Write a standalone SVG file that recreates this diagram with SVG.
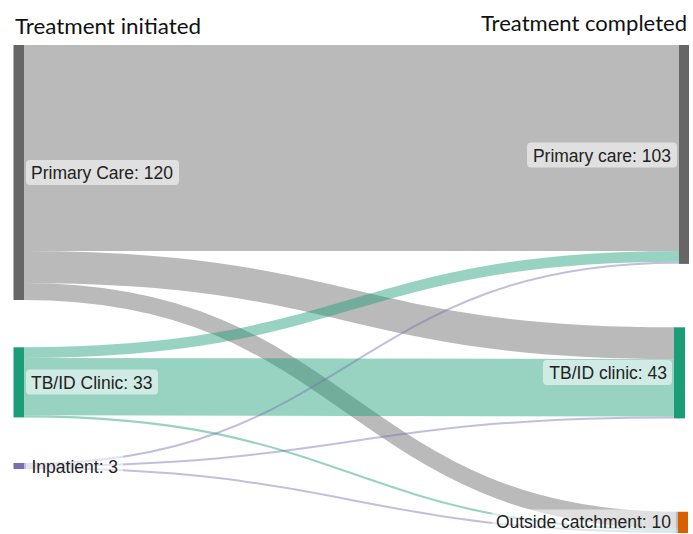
<svg xmlns="http://www.w3.org/2000/svg" width="693" height="534" viewBox="0 0 693 534">
  <style>
    .title { font-family: Lato, "Open Sans", sans-serif; font-size: 21.5px; fill: #111; }
    .lbl { font-family: "Liberation Sans", Arial, sans-serif; font-size: 17.5px; fill: #222; }
    .box { fill: #ffffff; fill-opacity: 0.55; }
    .link { fill: none; stroke-opacity: 0.45; }
    .grey { stroke: #666666; }
    .green { stroke: #1b9e77; }
    .purple { stroke: #7570b3; }
  </style>

  <!-- column titles -->
  <text class="title" x="15" y="34" textLength="186" lengthAdjust="spacingAndGlyphs">Treatment initiated</text>
  <text class="title" x="481" y="31" textLength="206" lengthAdjust="spacingAndGlyphs">Treatment completed</text>

  <!-- flows: cubic curves with control points at the horizontal midpoint -->
  <g id="links">
    <path class="link grey" stroke-width="206.1" d="M24,148.06 L679,148.06"/>
    <path class="link grey" stroke-width="31.9" d="M24,267.06 C349,267.06 349,343.2 674,343.2"/>
    <path class="link grey" stroke-width="17" d="M24,291.5 C351,291.5 351,520.25 678,520.25"/>
    <path class="link green" stroke-width="10.6" d="M24,352.6 C351.5,352.6 351.5,256.4 679,256.4"/>
    <path class="link green" stroke-width="57.4" d="M24,386.6 C349,386.6 349,387.9 674,387.9"/>
    <path class="link green" stroke-width="2.1" d="M24,416.4 C351,416.4 351,529.8 678,529.8"/>
    <path class="link purple" stroke-width="2" d="M24,464 C351.5,464 351.5,262.8 679,262.8"/>
    <path class="link purple" stroke-width="2" d="M24,466 C349,466 349,417.5 674,417.5"/>
    <path class="link purple" stroke-width="2" d="M24,468 C351,468 351,531.9 678,531.9"/>
  </g>

  <!-- source nodes -->
  <g id="src-primary-care">
    <rect x="13.5" y="45" width="10.5" height="255" fill="#666666"/>
    <rect class="box" x="26" y="160" width="153" height="25" rx="4"/>
    <text class="lbl" x="31" y="179">Primary Care: 120</text>
  </g>
  <g id="src-tbid-clinic">
    <rect x="13.5" y="347.3" width="10.5" height="70.1" fill="#1b9e77"/>
    <rect class="box" x="26" y="369.5" width="132" height="25" rx="4"/>
    <text class="lbl" x="31" y="388.5">TB/ID Clinic: 33</text>
  </g>
  <g id="src-inpatient">
    <rect x="13.5" y="463" width="10.5" height="6" fill="#7570b3"/>
    <rect class="box" x="26" y="453.5" width="97" height="25" rx="4"/>
    <text class="lbl" x="31.5" y="472.5">Inpatient: 3</text>
  </g>

  <!-- destination nodes -->
  <g id="dst-primary-care">
    <rect x="679" y="45" width="10" height="218.9" fill="#666666"/>
    <rect class="box" x="527" y="142.5" width="150" height="25" rx="4"/>
    <text class="lbl" x="671" y="161.5" text-anchor="end">Primary care: 103</text>
  </g>
  <g id="dst-tbid-clinic">
    <rect x="674" y="327.3" width="11" height="91.1" fill="#1b9e77"/>
    <rect class="box" x="543" y="360" width="129" height="25" rx="4"/>
    <text class="lbl" x="667" y="379" text-anchor="end">TB/ID clinic: 43</text>
  </g>
  <g id="dst-outside-catchment">
    <rect x="678" y="511.75" width="10" height="21.25" fill="#d95f02"/>
    <rect class="box" x="492" y="509.5" width="184" height="25" rx="4"/>
    <text class="lbl" x="671" y="528" text-anchor="end">Outside catchment: 10</text>
  </g>
</svg>
